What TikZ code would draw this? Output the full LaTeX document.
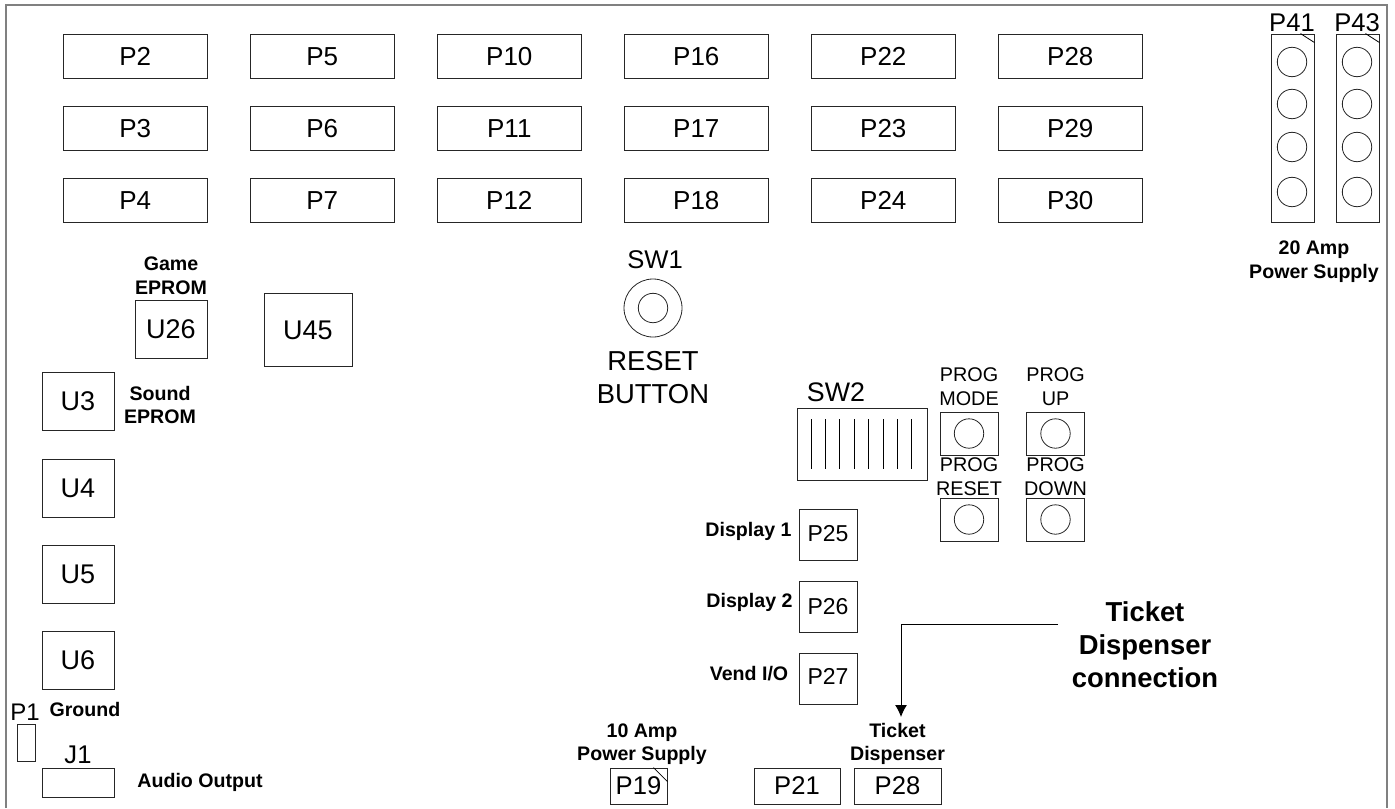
\documentclass[tikz,border=0pt]{standalone}
\usepackage{fontspec}
\setmainfont{Liberation Sans}
\usetikzlibrary{arrows.meta}
\tikzset{
  box/.style={draw=black!85, line width=0.45pt, inner sep=0pt, font=\fontsize{12.8}{15}\selectfont},
  slot/.style={box, minimum width=72pt, minimum height=22pt, text height=9.6pt, text depth=0pt, font=\fontsize{13}{15}\selectfont},
  chip/.style={box, minimum width=36pt, minimum height=29pt, text height=9.8pt, text depth=0pt, font=\fontsize{13.5}{15}\selectfont},
  disp/.style={box, minimum width=29pt, minimum height=25.5pt, font=\fontsize{11.5}{14}\selectfont},
  btn/.style={box, minimum width=29pt, minimum height=21.5pt},
  hole/.style={draw=black!85, line width=0.4pt, circle, inner sep=0pt, minimum size=14.7pt},
  partname/.style={inner sep=0pt, align=center, font=\fontsize{12.8}{15}\selectfont},
  prog/.style={inner sep=0pt, align=center, font=\fontsize{9.9}{12}\selectfont},
  tag/.style={inner sep=0pt, align=center, font=\fontsize{9.8}{11.8}\bfseries\selectfont},
}
\begin{document}
\begin{tikzpicture}[x=0.5pt, y=-0.5pt]
  \useasboundingbox (0,0) rectangle (1395,808);
  \draw[black!50, line width=1pt] (6,808) -- (6,5) -- (1387,5) -- (1387,808);
  \matrix[column sep={93.5pt,between origins}, row sep={36pt,between origins}] at (602.8,128)
  {
    \node[slot](P2) {P2}; & \node[slot](P5) {P5}; & \node[slot](P10) {P10}; & \node[slot](P16) {P16}; & \node[slot](P22) {P22}; & \node[slot](P28top) {P28};\\
    \node[slot](P3) {P3}; & \node[slot](P6) {P6}; & \node[slot](P11) {P11}; & \node[slot](P17) {P17}; & \node[slot](P23) {P23}; & \node[slot](P29) {P29};\\
    \node[slot](P4) {P4}; & \node[slot](P7) {P7}; & \node[slot](P12) {P12}; & \node[slot](P18) {P18}; & \node[slot](P24) {P24}; & \node[slot](P30) {P30};\\
  };
  % power connectors
  \node[box, minimum width=21.5pt, minimum height=94pt] (P41) at (1292.5,128) {};
  \node[box, minimum width=21.5pt, minimum height=94pt] (P43) at (1357.5,128) {};
  \node[partname] (P41name) at (1292,23) {P41};
  \node[partname] (P43name) at (1357,23) {P43};
  \draw[line width=0.4pt] ([xshift=-7pt]P41.north east) -- ([yshift=-4.5pt]P41.north east);
  \draw[line width=0.4pt] ([xshift=-7pt]P43.north east) -- ([yshift=-4.5pt]P43.north east);
  \foreach \y/\n in {62/a,104/b,147/c,192/d} {
    \node[hole] (P41\n) at (1292,\y) {};
    \node[hole] (P43\n) at (1357,\y) {};
  }
  \node[tag] (amp20) at (1314,261.5) {20 Amp\\Power Supply};
  % reset button
  \node[partname] (SW1) at (655,260) {SW1};
  \node[hole, minimum size=29pt] (SW1out) at (653,308) {};
  \node[hole] (SW1in) at (653,308) {};
  \node[partname, font=\fontsize{13.7}{16.5}\selectfont] (resetbtn) at (653,377.5) {RESET\\BUTTON};
  % eproms
  \node[tag] (game) at (171,275.5) {Game\\EPROM};
  \node[chip] (U26) at (171,329) {U26};
  \node[chip, minimum width=44pt, minimum height=36.5pt] (U45) at (308,329.5) {U45};
  \node[chip] (U3) at (78,401) {U3};
  \node[chip] (U4) at (78,488) {U4};
  \node[chip] (U5) at (78,574) {U5};
  \node[chip] (U6) at (78,660) {U6};
  \node[tag] (sound) at (160,405) {Sound\\EPROM};
  % audio
  \node[partname, font=\fontsize{12}{14}\selectfont] (P1name) at (25,712) {P1};
  \node[tag] (ground) at (85,709) {Ground};
  \node[box, minimum width=9pt, minimum height=18.5pt] (P1) at (26,742.5) {};
  \node[partname] (J1name) at (78,755) {J1};
  \node[box, minimum width=36pt, minimum height=14.5pt] (J1) at (78,782.5) {};
  \node[tag] (audio) at (200,782) {Audio Output};
  % dip switch
  \node[partname, font=\fontsize{13.4}{15}\selectfont] (SW2name) at (836,392) {SW2};
  \node[box, minimum width=65pt, minimum height=36pt] (SW2) at (862,444) {};
  \foreach \i in {0,...,7} {
    \draw[line width=0.4pt] ({811+14.4*\i},419) -- ({811+14.4*\i},469);
  }
  % prog buttons
  \node[btn] (mode) at (969,433.5) {};
  \node[btn] (up) at (1055.5,433.5) {};
  \node[btn] (reset) at (969,519.5) {};
  \node[btn] (down) at (1055.5,519.5) {};
  \node[hole] (modeh) at (969,433.5) {};
  \node[hole] (uph) at (1055.5,433.5) {};
  \node[hole] (reseth) at (969,519.5) {};
  \node[hole] (downh) at (1055.5,519.5) {};
  \node[prog] (modet) at (969,387) {PROG\\MODE};
  \node[prog] (upt) at (1055.5,387) {PROG\\UP};
  \node[prog] (resett) at (969,477) {PROG\\RESET};
  \node[prog] (downt) at (1055.5,477) {PROG\\DOWN};
  % displays
  \node[disp] (P25) at (828,534.5) {\raisebox{0.6pt}{P25}};
  \node[disp] (P26) at (828,607) {P26\hspace{3pt}};
  \node[disp] (P27) at (828,678.5) {\raisebox{2.5pt}{P27}};
  \node[tag] (disp1) at (748.5,531) {Display 1};
  \node[tag] (disp2) at (749.5,602) {Display 2};
  \node[tag] (vend) at (749,674) {Vend I/O};
  % bottom row
  \node[tag] (amp10) at (642,744) {10 Amp\\Power Supply};
  \node[tag] (ticket) at (897.5,744) {Ticket\\Dispenser};
  \node[box, minimum width=28.5pt, minimum height=18pt] (P19) at (638.5,786) {P19};
  \node[box, minimum width=43pt, minimum height=18pt] (P21) at (797,786) {P21};
  \node[box, minimum width=43.5pt, minimum height=18pt] (P28) at (897.5,786) {P28};
  \draw[line width=0.4pt] ([xshift=-7pt]P19.north east) -- ([yshift=-7pt]P19.north east);
  % callout
  \node[inner sep=0pt, align=center, font=\fontsize{13.7}{16.5}\bfseries\selectfont] (callout) at (1145,645) {Ticket\\Dispenser\\connection};
  \coordinate (calloutend) at (1058,624);
  \coordinate (bend) at (901,624);
  \coordinate (arrowend) at (901,717);
  \draw[-{Latex[length=6pt,width=6pt]}, line width=0.5pt] (calloutend) -- (bend) -- (arrowend);
\end{tikzpicture}
\end{document}
